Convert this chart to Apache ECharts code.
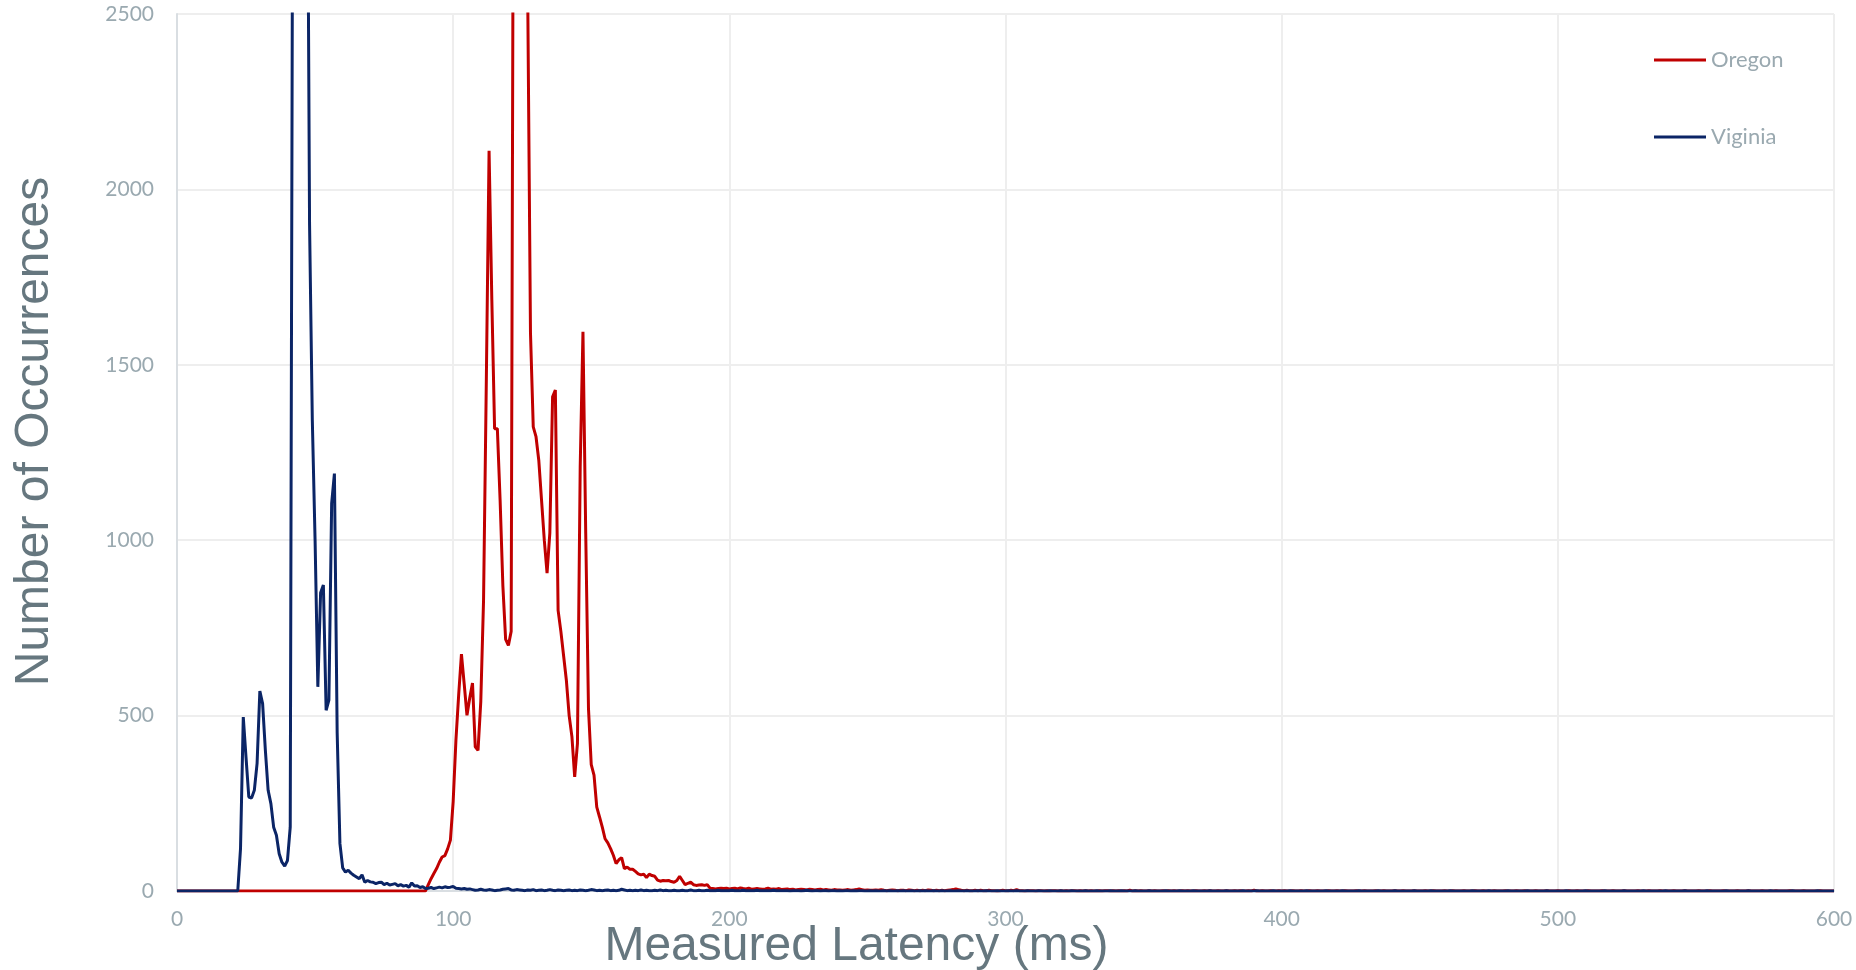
<!DOCTYPE html>
<html>
<head>
<meta charset="utf-8">
<title>Measured Latency</title>
<script src="https://cdn.jsdelivr.net/npm/echarts@6/dist/echarts.min.js"></script>
<style>
  html, body { margin: 0; padding: 0; background: #fff; }
  #chart { width: 1856px; height: 970px; }
</style>
</head>
<body>
<div id="chart"></div>
<script>
// one value per 1 ms bin, index = latency in ms (0..600)
const oregon = [
  0,0,0,0,0,0,0,0,0,0,0,0,0,0,0,0,0,0,0,0,
  0,0,0,0,0,0,0,0,0,0,0,0,0,0,0,0,0,0,0,0,
  0,0,0,0,0,0,0,0,0,0,0,0,0,0,0,0,0,0,0,0,
  0,0,0,0,0,0,0,0,0,0,0,0,0,0,0,0,0,0,0,0,
  0,0,0,0,0,0,0,0,0,0,0,18,35,50,64,82,97,101,120,145,
  255,430,560,675,590,501,550,593,411,401,540,829,1450,2110,1685,1318,1318,1114,870,717,
  700,740,3600,7200,8800,7400,4500,2550,1590,1323,1295,1228,1114,1000,906,1020,1409,1428,800,740,
  670,600,500,440,325,420,1209,1594,1020,520,360,330,239,211,182,149,137,121,102,78,
  89,95,64,68,62,62,56,49,46,48,38,48,44,42,31,28,30,29,30,27,
  25,30,42,30,18,22,25,18,16,17,18,16,18,8,7,6,7,8,7,8,
  6,7,8,6,9,7,6,8,5,6,7,6,5,6,8,5,6,5,7,4,
  5,6,4,5,3,4,5,4,3,5,4,3,4,5,3,4,3,2,4,3,
  3,2,3,4,2,3,4,6,4,2,3,2,2,3,2,4,2,1,2,3,
  2,1,2,2,1,3,2,1,2,1,2,1,3,2,1,2,1,2,1,2,
  3,4,6,4,2,1,2,1,1,2,1,2,1,1,2,1,1,0,1,2,
  1,1,2,1,4,1,1,0,1,1,1,0,1,1,0,1,0,1,1,0,
  1,0,1,0,1,1,0,1,0,1,0,1,0,0,1,0,1,1,0,1,
  0,1,0,1,0,2,0,1,0,1,0,0,1,0,1,0,0,1,0,1,
  0,1,0,0,1,0,1,0,0,1,0,0,1,0,1,0,0,1,0,0,
  1,0,0,1,0,1,0,0,1,0,2,0,0,1,0,0,1,0,0,1,
  0,1,0,0,1,0,0,1,0,0,1,0,0,1,0,0,0,1,0,0,
  1,0,0,1,0,0,0,1,0,0,1,0,0,0,1,0,0,1,0,0,
  0,1,0,0,1,0,0,0,1,0,0,0,1,0,0,1,0,0,0,1,
  0,0,1,0,0,0,1,0,0,0,1,0,0,1,0,0,0,1,0,0,
  0,1,0,0,0,1,0,0,1,0,0,0,1,0,0,0,1,0,0,0,
  1,0,0,0,1,0,0,1,0,0,0,1,0,0,0,0,1,0,0,0,
  1,0,0,0,1,0,0,0,0,1,0,0,0,1,0,0,0,1,0,0,
  0,0,1,0,0,0,1,0,0,0,0,1,0,0,0,1,0,0,0,0,
  1,0,0,0,0,1,0,0,0,1,0,0,0,0,1,0,0,0,0,1,
  0,0,0,0,1,0,0,0,0,1,0,0,0,0,0,1,0,0,0,0,
  0
];

const virginia = [
  0,0,0,0,0,0,0,0,0,0,0,0,0,0,0,0,0,0,0,0,
  0,0,0,121,496,380,268,265,287,364,570,534,401,287,249,182,159,106,82,71,
  87,182,3300,6800,9400,8600,5900,3400,1900,1342,1000,582,850,872,515,544,1105,1190,450,135,
  66,54,59,51,45,40,35,46,25,30,26,25,21,24,25,18,22,17,19,21,
  15,18,14,16,11,23,14,15,10,12,7,8,10,7,9,11,9,12,10,11,
  13,8,7,6,7,5,6,4,2,3,5,3,2,4,3,1,2,3,5,6,
  7,3,2,4,3,2,1,3,2,4,1,2,3,1,2,4,2,1,3,2,
  1,2,3,1,2,1,3,2,1,2,4,3,1,2,1,2,3,1,2,1,
  2,5,3,1,2,1,2,1,3,1,2,1,1,2,1,3,1,2,1,1,
  2,1,1,2,1,1,3,1,1,2,1,1,2,1,1,1,2,1,1,1,
  1,2,1,1,1,2,1,1,1,1,2,1,1,1,1,1,2,1,1,1,
  1,1,0,1,1,1,0,1,2,1,0,1,1,0,1,1,0,1,1,0,
  1,0,1,1,0,1,0,1,1,0,0,1,0,1,0,0,1,0,1,0,
  0,1,0,1,0,0,1,0,0,1,0,1,0,0,1,0,0,1,0,0,
  1,0,0,1,0,0,1,0,0,0,1,0,0,1,0,0,0,1,0,0,
  0,1,0,0,1,0,0,0,1,0,0,0,1,0,0,0,1,0,0,0,
  1,0,0,0,1,0,0,0,0,1,0,0,0,1,0,0,0,0,1,0,
  0,0,1,0,0,0,0,1,0,0,0,0,1,0,0,0,0,0,1,0,
  0,0,0,1,0,0,0,0,1,0,0,0,0,0,1,0,0,0,0,0,
  1,0,0,0,0,0,1,0,0,0,0,1,0,0,0,0,0,1,0,0,
  0,0,0,1,0,0,0,0,0,1,0,0,0,0,0,0,1,0,0,0,
  0,0,1,0,0,0,0,0,1,0,0,0,0,0,0,1,0,0,0,0,
  0,1,0,0,0,0,0,0,1,0,0,0,0,0,1,0,0,0,0,0,
  0,1,0,0,0,0,0,0,0,1,0,0,0,0,0,1,0,0,0,0,
  0,0,1,0,0,0,0,0,0,1,0,0,0,0,0,0,1,0,0,0,
  0,0,0,1,0,0,0,0,0,0,1,0,0,0,0,0,0,1,0,0,
  0,0,0,0,1,0,0,0,0,0,0,1,0,0,0,0,0,0,0,1,
  0,0,0,0,0,0,1,0,0,0,0,0,0,0,1,0,0,0,0,0,
  0,1,0,0,0,0,0,0,0,1,0,0,0,0,0,0,0,1,0,0,
  0,0,0,0,0,1,0,0,0,0,0,0,0,0,1,0,0,0,0,0,
  0
];

const xMax = 600;
const xStep = 100;
const yMax = 2500;
const yStep = 500;

const labelColor = "#9aa9b0";
const titleColor = "#66777f";

function toPoints(arr) {
  return arr.map((v, ms) => [ms, v]);
}

const chart = echarts.init(document.getElementById("chart"));

const option = {
  animation: false,
  backgroundColor: "#ffffff",
  legend: {
    orient: "vertical",
    left: 1649,
    top: 44,
    data: ["Oregon", "Viginia"],
    icon: "rect",
    itemWidth: 52,
    itemHeight: 3,
    itemGap: 55,
    textStyle: {
      fontFamily: "Lato",
      fontSize: 22,
      color: labelColor,
    },
  },
  grid: {
    left: 177,
    right: 22,
    top: 14,
    bottom: 79,
    containLabel: false,
    outerBoundsMode: "none",
  },
  xAxis: {
    type: "value",
    min: 0,
    max: xMax,
    interval: xStep,
    name: "Measured Latency (ms)",
    nameLocation: "middle",
    nameGap: 32,
    nameMoveOverlap: false,
    nameTextStyle: {
      fontFamily: "Liberation Sans",
      fontSize: 48,
      color: titleColor,
      padding: [0, 298, 0, 0],
    },
    axisLine: { show: true, lineStyle: { color: "#d9dee2", width: 2 } },
    axisTick: { show: false },
    axisLabel: {
      margin: 18,
      fontFamily: "Lato",
      fontSize: 21,
      color: labelColor,
      formatter: (v) => String(v),
    },
    splitLine: { show: true, lineStyle: { color: "#eeeeee", width: 2 } },
  },
  yAxis: {
    type: "value",
    min: 0,
    max: yMax,
    interval: yStep,
    name: "Number of Occurrences",
    nameLocation: "middle",
    nameGap: 118,
    nameMoveOverlap: false,
    nameTextStyle: {
      fontFamily: "Liberation Sans",
      fontSize: 48,
      color: titleColor,
      padding: [0, 0, 0, 42],
    },
    axisLine: { show: true, lineStyle: { color: "#d9dee2", width: 2 } },
    axisTick: { show: false },
    axisLabel: {
      margin: 23,
      fontFamily: "Lato",
      fontSize: 21,
      color: labelColor,
      formatter: (v) => String(v),
    },
    splitLine: { show: true, lineStyle: { color: "#eeeeee", width: 2 } },
  },
  series: [
    {
      name: "Oregon",
      type: "line",
      data: toPoints(oregon),
      showSymbol: false,
      clip: true,
      lineStyle: { color: "#c00000", width: 3 },
      itemStyle: { color: "#c00000" },
    },
    {
      name: "Viginia",
      type: "line",
      data: toPoints(virginia),
      showSymbol: false,
      clip: true,
      lineStyle: { color: "#0b2566", width: 3 },
      itemStyle: { color: "#0b2566" },
    },
  ],
};

chart.setOption(option);
</script>
</body>
</html>
